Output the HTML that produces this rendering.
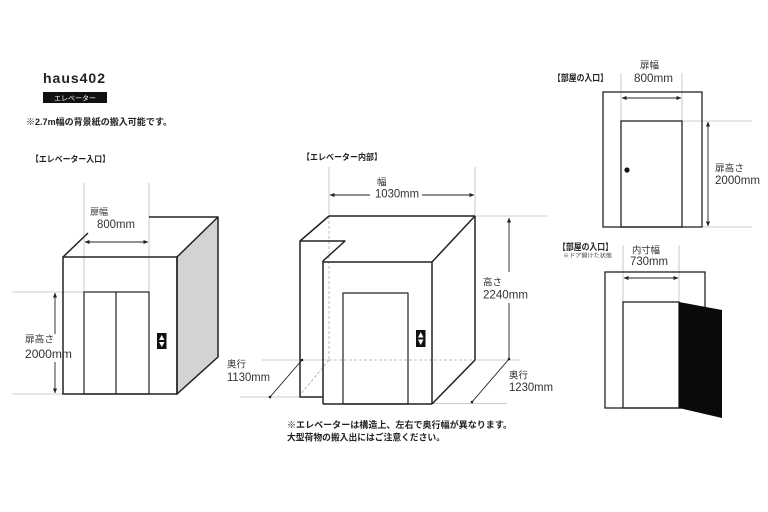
<!DOCTYPE html>
<html><head><meta charset="utf-8"><style>
html,body{margin:0;padding:0;background:#fff;}
svg{display:block;}
text{font-family:"Liberation Sans","Noto Sans CJK JP",sans-serif;}
.j{font-family:"Liberation Sans","Noto Sans CJK JP",sans-serif;}
</style></head><body>
<svg width="768" height="512" viewBox="0 0 768 512" xmlns="http://www.w3.org/2000/svg">
<defs>
<marker id="a" viewBox="0 0 6 6" refX="5.5" refY="3" markerWidth="5" markerHeight="5" orient="auto-start-reverse" markerUnits="userSpaceOnUse">
<path d="M0,0.5 L6,3 L0,5.5 z" fill="#222"/>
</marker>
</defs>
<rect width="768" height="512" fill="#fff"/>

<!-- Header -->
<text x="43" y="83" font-size="14" font-weight="bold" fill="#222" textLength="62" lengthAdjust="spacing">haus402</text>
<rect x="43" y="92" width="64" height="11" fill="#111"/>
<text x="54" y="100.5" font-size="7" fill="#fff" textLength="42" lengthAdjust="spacingAndGlyphs">エレベーター</text>
<text x="26" y="125" font-size="9" font-weight="bold" fill="#222" textLength="146" lengthAdjust="spacingAndGlyphs">※2.7m幅の背景紙の搬入可能です。</text>

<!-- Left elevator -->
<text x="31" y="162" font-size="8.5" font-weight="bold" fill="#222" textLength="79" lengthAdjust="spacingAndGlyphs">【エレベーター入口】</text>
<g stroke="#bdbdbd" stroke-width="0.8" fill="none">
<line x1="84" y1="183" x2="84" y2="292"/>
<line x1="149" y1="183" x2="149" y2="292"/>
<line x1="12" y1="292" x2="84" y2="292"/>
<line x1="12" y1="394" x2="63" y2="394"/>
</g>
<polygon points="177,257 218,217 218,357 177,394" fill="#d3d3d3" stroke="#222" stroke-width="1.5" stroke-linejoin="round"/>
<g stroke="#222" stroke-width="1.5" fill="none">
<rect x="63" y="257" width="114" height="137"/>
<line x1="63" y1="257" x2="88" y2="233"/>
<line x1="149" y1="217" x2="218" y2="217"/>
<rect x="84" y="292" width="65" height="102" stroke-width="1.2"/>
<line x1="116" y1="292" x2="116" y2="394" stroke-width="1.2"/>
</g>
<g stroke="#222" stroke-width="0.9">
<line x1="85" y1="242" x2="148" y2="242" marker-start="url(#a)" marker-end="url(#a)"/>
<line x1="55" y1="293" x2="55" y2="334" marker-start="url(#a)"/>
<line x1="55" y1="362" x2="55" y2="393" marker-end="url(#a)"/>
</g>
<rect x="157" y="333" width="9.5" height="16" fill="#111"/>
<polygon points="161.75,335 164.5,340 159,340" fill="#fff"/>
<polygon points="161.75,347 164.5,342 159,342" fill="#fff"/>
<text x="90" y="215" font-size="9" fill="#333" textLength="18" lengthAdjust="spacingAndGlyphs">扉幅</text>
<text x="97" y="228" font-size="11.5" fill="#333" textLength="38" lengthAdjust="spacingAndGlyphs">800mm</text>
<text x="25" y="342.5" font-size="9.5" fill="#333" textLength="29" lengthAdjust="spacingAndGlyphs">扉高さ</text>
<text x="25" y="358" font-size="11.5" fill="#333" textLength="47" lengthAdjust="spacingAndGlyphs">2000mm</text>

<!-- Middle elevator -->
<text x="302" y="160" font-size="8.5" font-weight="bold" fill="#222" textLength="80" lengthAdjust="spacingAndGlyphs">【エレベーター内部】</text>
<g stroke="#bdbdbd" stroke-width="0.8" fill="none">
<line x1="329" y1="167" x2="329" y2="216"/>
<line x1="475" y1="167" x2="475" y2="216"/>
<line x1="475" y1="216" x2="547" y2="216"/>
<line x1="262" y1="360" x2="329" y2="360"/>
<line x1="475" y1="360" x2="520" y2="360"/>
<line x1="240" y1="397" x2="300" y2="397"/>
<line x1="432" y1="403.5" x2="507" y2="403.5"/>
</g>
<g stroke="#aaa" stroke-width="0.8" fill="none" stroke-dasharray="3,2">
<line x1="329" y1="216" x2="329" y2="360"/>
<line x1="329" y1="360" x2="475" y2="360"/>
<line x1="329" y1="360" x2="300" y2="395"/>
</g>
<g stroke="#222" stroke-width="1.5" fill="none" stroke-linejoin="round">
<line x1="329" y1="216" x2="475" y2="216"/>
<line x1="475" y1="216" x2="432" y2="262"/>
<line x1="323" y1="262" x2="432" y2="262"/>
<polyline points="329,216 300,241 345,241 323,261"/>
<polyline points="300,241 300,397 323,397"/>
<line x1="323" y1="261" x2="323" y2="404"/>
<line x1="323" y1="404" x2="432" y2="404"/>
<line x1="432" y1="262" x2="432" y2="404"/>
<line x1="475" y1="216" x2="475" y2="360"/>
<line x1="475" y1="360" x2="432" y2="404"/>
<rect x="343" y="293" width="65" height="111" stroke-width="1.2"/>
</g>
<g stroke="#222" stroke-width="0.9">
<line x1="330" y1="195" x2="370" y2="195" marker-start="url(#a)"/>
<line x1="422" y1="195" x2="474" y2="195" marker-end="url(#a)"/>
<line x1="509" y1="218" x2="509" y2="272" marker-start="url(#a)"/>
<line x1="509" y1="303" x2="509" y2="359"/>
<line x1="509" y1="359" x2="472" y2="402"/>
<line x1="302" y1="360" x2="270" y2="397"/>
</g>
<circle cx="509" cy="359" r="1.3" fill="#222"/>
<circle cx="472" cy="402" r="1.3" fill="#222"/>
<circle cx="302" cy="360" r="1.3" fill="#222"/>
<circle cx="270" cy="397" r="1.3" fill="#222"/>
<rect x="416" y="330" width="9.5" height="17" fill="#111"/>
<polygon points="420.75,332 423.5,337.5 418,337.5" fill="#fff"/>
<polygon points="420.75,345 423.5,339.5 418,339.5" fill="#fff"/>
<text x="377" y="185.5" font-size="9.5" fill="#333">幅</text>
<text x="375" y="197.5" font-size="11.5" fill="#333" textLength="44" lengthAdjust="spacingAndGlyphs">1030mm</text>
<text x="483" y="285.5" font-size="9.5" fill="#333" textLength="19" lengthAdjust="spacingAndGlyphs">高さ</text>
<text x="483" y="298.5" font-size="11.5" fill="#333" textLength="45" lengthAdjust="spacingAndGlyphs">2240mm</text>
<text x="227" y="367.5" font-size="9.5" fill="#333" textLength="19" lengthAdjust="spacingAndGlyphs">奥行</text>
<text x="227" y="381" font-size="11.5" fill="#333" textLength="43" lengthAdjust="spacingAndGlyphs">1130mm</text>
<text x="509" y="378.5" font-size="9.5" fill="#333" textLength="19" lengthAdjust="spacingAndGlyphs">奥行</text>
<text x="509" y="391" font-size="11.5" fill="#333" textLength="44" lengthAdjust="spacingAndGlyphs">1230mm</text>
<text x="287" y="428" font-size="9" font-weight="bold" fill="#222" textLength="225" lengthAdjust="spacingAndGlyphs">※エレベーターは構造上、左右で奥行幅が異なります。</text>
<text x="287" y="440.5" font-size="9" font-weight="bold" fill="#222" textLength="158" lengthAdjust="spacingAndGlyphs">大型荷物の搬入出にはご注意ください。</text>

<!-- Right top: room entrance -->
<text x="553" y="81" font-size="9" font-weight="bold" fill="#222" textLength="55" lengthAdjust="spacingAndGlyphs">【部屋の入口】</text>
<g stroke="#bdbdbd" stroke-width="0.8" fill="none">
<line x1="621" y1="73" x2="621" y2="121"/>
<line x1="682" y1="73" x2="682" y2="121"/>
<line x1="682" y1="121" x2="752" y2="121"/>
<line x1="702" y1="227" x2="752" y2="227"/>
</g>
<g stroke="#222" stroke-width="1.3" fill="none">
<rect x="603" y="92" width="99" height="135"/>
<rect x="621" y="121" width="61" height="106"/>
</g>
<g stroke="#222" stroke-width="0.9">
<line x1="622" y1="98" x2="681" y2="98" marker-start="url(#a)" marker-end="url(#a)"/>
<line x1="708" y1="122" x2="708" y2="226" marker-start="url(#a)" marker-end="url(#a)"/>
</g>
<circle cx="627" cy="170" r="2.6" fill="#111"/>
<text x="640" y="68.5" font-size="9.5" fill="#333" textLength="19" lengthAdjust="spacingAndGlyphs">扉幅</text>
<text x="634" y="82" font-size="11.5" fill="#333" textLength="39" lengthAdjust="spacingAndGlyphs">800mm</text>
<text x="715" y="171.5" font-size="9.5" fill="#333" textLength="29" lengthAdjust="spacingAndGlyphs">扉高さ</text>
<text x="715" y="184" font-size="11.5" fill="#333" textLength="45" lengthAdjust="spacingAndGlyphs">2000mm</text>

<!-- Right bottom: room entrance door open -->
<text x="558" y="250" font-size="9" font-weight="bold" fill="#222" textLength="55" lengthAdjust="spacingAndGlyphs">【部屋の入口】</text>
<text x="563" y="257.5" font-size="5.5" fill="#444" textLength="49" lengthAdjust="spacingAndGlyphs">※ドア開けた状態</text>
<g stroke="#bdbdbd" stroke-width="0.8" fill="none">
<line x1="623" y1="245" x2="623" y2="302"/>
<line x1="679" y1="245" x2="679" y2="302"/>
</g>
<g stroke="#222" stroke-width="1.3" fill="none">
<rect x="605" y="272" width="100" height="136"/>
<rect x="623" y="302" width="56" height="106"/>
</g>
<polygon points="679,302 722,310 722,418 679,408" fill="#0a0a0a"/>
<line x1="624" y1="278" x2="678" y2="278" stroke="#222" stroke-width="0.9" marker-start="url(#a)" marker-end="url(#a)"/>
<text x="632" y="253.5" font-size="9.5" fill="#333" textLength="28" lengthAdjust="spacingAndGlyphs">内寸幅</text>
<text x="630" y="265" font-size="11.5" fill="#333" textLength="38" lengthAdjust="spacingAndGlyphs">730mm</text>
</svg>
</body></html>
